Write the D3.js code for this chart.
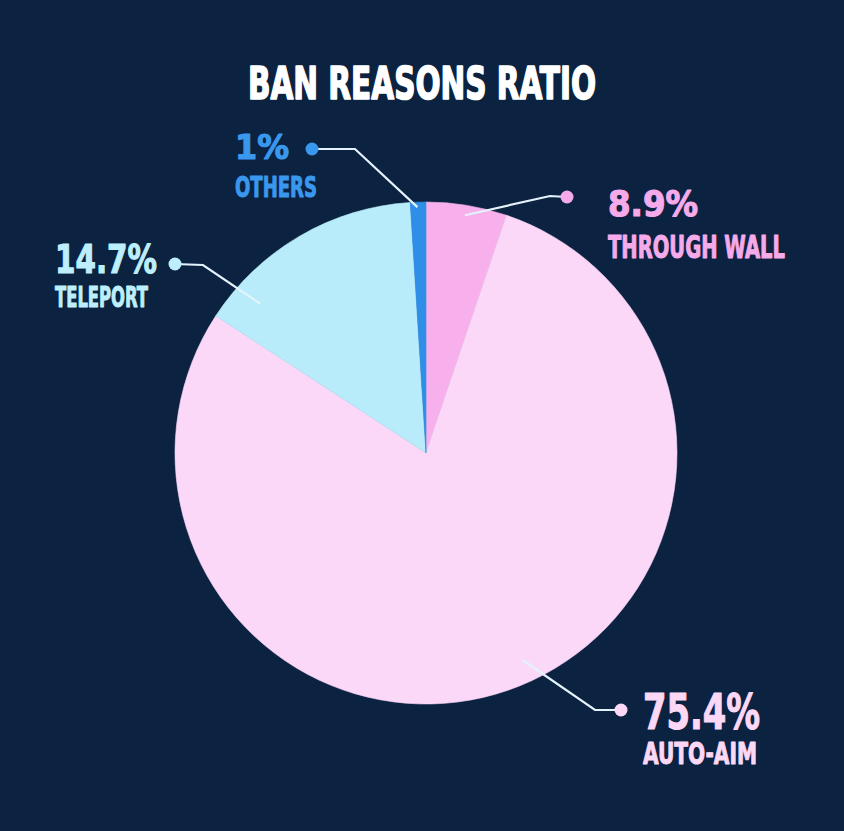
<!DOCTYPE html>
<html><head><meta charset="utf-8">
<script src="https://cdn.jsdelivr.net/npm/d3@7"></script>
<style>
html,body{margin:0;padding:0;background:#0b2240;}
svg{display:block;}
text{font-family:"DejaVu Sans Condensed","DejaVu Sans","Liberation Sans",sans-serif;font-weight:bold;font-stretch:condensed;}
</style></head>
<body><svg id="chart" width="844" height="831"></svg>
<script>
// ---- data ----
const title = "BAN REASONS RATIO";
const categories = ["THROUGH WALL", "AUTO-AIM", "TELEPORT", "OTHERS"];
// slice sizes as drawn in the picture (clockwise from 12 o'clock)
const sliceShares = [5.2, 79.0, 14.8, 1.0];
// percentage labels printed on the chart
const percentLabels = ["8.9%", "75.4%", "14.7%", "1%"];

// ---- styles / layout ----
const sliceColors = ["#f7b0ec", "#fcd8f8", "#b9ecfa", "#2f8fe8"];
const textColors  = ["#f5aaea", "#fcd8f7", "#bdeefb", "#3a97ee"];
const W = 844, H = 831;
const cx = 426, cy = 453, R = 251;

// label layout: left x, pct baseline, pct cap, pct width, name baseline, name cap, name width,
// leader: start (angle deg, radius fraction), elbow, dot
const layout = [
  {x:608, pb:216, pc:26, pw:90,  nb:258, nc:23, nw:177, a:9.3,  rf:0.96, elbow:[550,196], dot:[567,197]},
  {x:643, pb:729, pc:36, pw:117, nb:764, nc:22, nw:114, a:155,  rf:0.91, elbow:[595,710], dot:[621,710]},
  {x:55,  pb:273, pc:29, pw:102, nb:307, nc:21, nw:93,  a:312,  rf:0.89, elbow:[203,265], dot:[175,264]},
  {x:235, pb:159, pc:25, pw:54,  nb:197, nc:21, nw:82,  a:358,  rf:0.98, elbow:[355,149], dot:[312,149]}
];
const CAP = 0.73;

const svg = d3.select("#chart");
svg.append("rect").attr("width", W).attr("height", H).attr("fill", "#0b2240");

const pie = d3.pie().sort(null).value(d => d)(sliceShares);
const arc = d3.arc().innerRadius(0).outerRadius(R);

const g = svg.append("g").attr("transform", `translate(${cx},${cy})`);
g.selectAll("path.slice").data(pie).join("path")
  .attr("class", "slice")
  .attr("d", arc)
  .attr("fill", (d, i) => sliceColors[i])
  .attr("stroke", (d, i) => sliceColors[i])
  .attr("stroke-width", 0.6);

// leader lines and dots
const rad = d3.scaleLinear().domain([0, 1]).range([0, R]);
layout.forEach((L, i) => {
  const a = L.a * Math.PI / 180;
  const sx = cx + rad(L.rf) * Math.sin(a), sy = cy - rad(L.rf) * Math.cos(a);
  svg.append("polyline")
    .attr("points", [[sx, sy], L.elbow, L.dot].map(p => p.join(",")).join(" "))
    .attr("fill", "none").attr("stroke", "#e4f3fb").attr("stroke-width", 2.2);
  svg.append("circle").attr("cx", L.dot[0]).attr("cy", L.dot[1]).attr("r", 6.5)
    .attr("fill", textColors[i]);
});

function fitText(sel, str, x, base, cap, width, color, sw) {
  const grp = sel.append("g");
  const t = grp.append("text")
    .attr("x", 0).attr("y", 0)
    .attr("font-size", cap / CAP)
    .attr("fill", color)
    .attr("stroke", color)
    .attr("stroke-width", sw)
    .attr("stroke-linejoin", "round")
    .text(str);
  const natural = t.node().getComputedTextLength();
  const k = width / natural;
  grp.attr("transform", `translate(${x},${base}) scale(${k},1)`);
  return grp;
}

layout.forEach((L, i) => {
  fitText(svg, percentLabels[i], L.x, L.pb, L.pc, L.pw, textColors[i], 1.1);
  fitText(svg, categories[i], L.x, L.nb, L.nc, L.nw, textColors[i], 1.0);
});

// title
fitText(svg, title, 248, 99, 33, 348, "#ffffff", 1.6);
</script>
</body></html>
